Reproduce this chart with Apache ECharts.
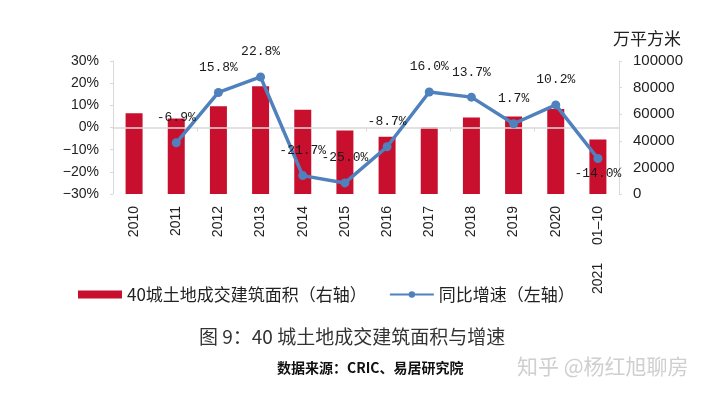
<!DOCTYPE html>
<html>
<head>
<meta charset="utf-8">
<script src="https://cdn.jsdelivr.net/npm/echarts@6/dist/echarts.min.js"></script>
<style>
html,body{margin:0;padding:0;background:#fff;}
#chart{width:720px;height:395px;}
</style>
</head>
<body>
<div id="chart"></div>
<script>
const categories = ['2010','2011','2012','2013','2014','2015','2016','2017','2018','2019','2020','2021 01-10'];
const areaValues = [60700, 56700, 65900, 81100, 63400, 47800, 43000, 50000, 57500, 58200, 64000, 41000];
const growthValues = [null, -6.9, 15.8, 22.8, -21.7, -25.0, -8.7, 16.0, 13.7, 1.7, 10.2, -14.0];
const leftTicks = {min: -30, max: 30, interval: 10};
const rightTicks = {min: 0, max: 100000, interval: 20000};
const barName = '40城土地成交建筑面积（右轴）';
const lineName = '同比增速（左轴）';
const titleText = '图 9：40 城土地成交建筑面积与增速';
const sourceText = '数据来源：CRIC、易居研究院';
const watermarkText = '知乎 @杨红旭聊房';
const rightAxisName = '万平方米';

const barColor = '#C8102E';
const lineColor = '#4F81BD';
const axisGray = '#d9d9d9';
const cjk = '"Noto Sans CJK SC", "Noto Sans", sans-serif';
const latin = '"Liberation Sans", Arial, sans-serif';

const chart = echarts.init(document.getElementById('chart'), null, {renderer: 'canvas'});

const lineData = growthValues.map((v, i) => {
  if (i === growthValues.length - 1) {
    return {value: v, label: {position: 'bottom', distance: 4}};
  }
  return v;
});

chart.setOption({
  animation: false,
  backgroundColor: '#fff',
  grid: {left: 113, right: 101, top: 61, bottom: 201, containLabel: false},
  title: [
    {text: titleText, left: 194, top: 322,
     textStyle: {fontFamily: cjk, fontSize: 19, fontWeight: 'normal', color: '#333'}},
    {text: sourceText, left: 272, top: 356,
     textStyle: {fontFamily: cjk, fontSize: 14, fontWeight: 'bold', color: '#111'}},
    {text: watermarkText, left: 512, top: 351,
     textStyle: {fontFamily: cjk, fontSize: 21, fontWeight: 'normal', color: '#cfcfcf'}}
  ],
  legend: {
    left: 73, top: 281, itemGap: 22, itemWidth: 44, itemHeight: 8,
    textStyle: {fontFamily: cjk, fontSize: 17, color: '#222'},
    data: [
      {name: barName, icon: 'rect'},
      {name: lineName}
    ]
  },
  xAxis: [
    {
      type: 'category', data: categories, position: 'bottom',
      axisLine: {show: false}, axisTick: {show: false},
      axisLabel: {
        rotate: 90, margin: 12, fontFamily: latin, fontSize: 14, color: '#222',
        formatter: v => v.replace(' ', '\u3000 ').replace('-', '\u2013')
      }
    },
    {
      type: 'category', data: categories, position: 'top', z: 3,
      axisLine: {show: true, onZero: true, onZeroAxisIndex: 0, lineStyle: {color: axisGray, width: 1.5}},
      axisTick: {show: true, inside: true, length: 4, lineStyle: {color: axisGray}},
      axisLabel: {show: false}
    }
  ],
  yAxis: [
    {
      type: 'value', position: 'left', min: leftTicks.min, max: leftTicks.max, interval: leftTicks.interval,
      splitLine: {show: false},
      axisLine: {show: true, lineStyle: {color: axisGray}},
      axisTick: {show: true, length: 3, lineStyle: {color: axisGray}},
      axisLabel: {margin: 14, fontFamily: latin, fontSize: 14, color: '#222',
        formatter: v => (String(v) + '%').replace('-', '\u2212')}
    },
    {
      type: 'value', position: 'right', min: rightTicks.min, max: rightTicks.max, interval: rightTicks.interval,
      name: rightAxisName, nameLocation: 'end', nameGap: 14,
      nameTextStyle: {fontFamily: cjk, fontSize: 17, color: '#222', align: 'center', padding: [0, 0, 0, 56]},
      splitLine: {show: false},
      axisLine: {show: true, lineStyle: {color: axisGray}},
      axisTick: {show: true, length: 3, lineStyle: {color: axisGray}},
      axisLabel: {margin: 14, fontFamily: latin, fontSize: 15, color: '#222',
        formatter: v => String(v)}
    }
  ],
  series: [
    {
      name: barName, type: 'bar', xAxisIndex: 0, yAxisIndex: 1,
      data: areaValues, barWidth: 17,
      itemStyle: {color: barColor}
    },
    {
      name: lineName, type: 'line', xAxisIndex: 0, yAxisIndex: 0, z: 4,
      data: lineData, connectNulls: false,
      symbol: 'circle', symbolSize: 9,
      lineStyle: {color: lineColor, width: 3.5},
      itemStyle: {color: lineColor},
      label: {
        show: true, position: 'top', distance: 14,
        fontFamily: '"Liberation Mono", "DejaVu Sans Mono", monospace', fontSize: 13, color: '#1a1a1a',
        formatter: p => p.value == null ? '' : p.value.toFixed(1) + '%'
      }
    }
  ]
});
</script>
</body>
</html>
